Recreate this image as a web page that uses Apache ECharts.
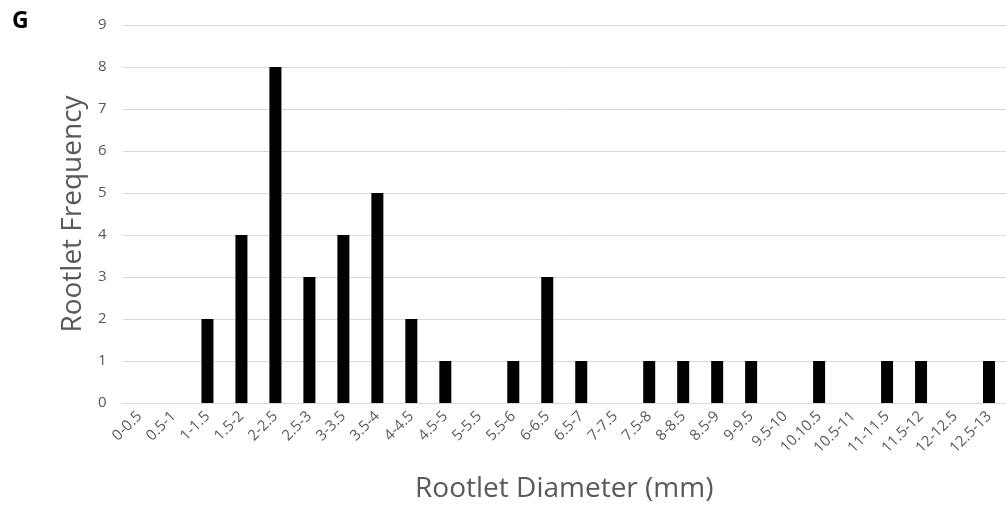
<!DOCTYPE html>
<html><head><meta charset="utf-8">
<script src="https://cdn.jsdelivr.net/npm/echarts@6/dist/echarts.min.js"></script>
<style>html,body{margin:0;padding:0;background:#fff}#c{width:1006px;height:508px}</style>
</head><body><div id="c"></div>
<script>
var categories = ['0-0.5','0.5-1','1-1.5','1.5-2','2-2.5','2.5-3','3-3.5','3.5-4','4-4.5','4.5-5','5-5.5','5.5-6','6-6.5','6.5-7','7-7.5','7.5-8','8-8.5','8.5-9','9-9.5','9.5-10','10.10.5','10.5-11','11-11.5','11.5-12','12-12.5','12.5-13'];
var frequency = [0,0,2,4,8,3,4,5,2,1,0,1,3,1,0,1,1,1,1,0,1,0,1,1,0,1];
var yTicks = [0,1,2,3,4,5,6,7,8,9];
var panelLabel = 'G';
var xTitle = 'Rootlet Diameter (mm)';
var yTitle = 'Rootlet Frequency';

var font = 'Open Sans';
var chart = echarts.init(document.getElementById('c'));
chart.setOption({
  animation: false,
  textStyle: {fontFamily: font},
  title: {text: panelLabel, left: 7, top: 5, textStyle: {fontSize: 23, fontWeight: 'bold', color: '#000', fontFamily: font}},
  grid: {left: 122.5, right: -7, top: 25, bottom: 102},
  xAxis: {
    type: 'category', data: categories,
    axisLine: {lineStyle: {color: '#d9d9d9'}},
    axisTick: {show: false},
    axisLabel: {rotate: 45, interval: 0, color: '#595959', fontSize: 15, margin: 11, fontFamily: font},
    name: xTitle, nameLocation: 'middle', nameGap: 72,
    nameTextStyle: {fontSize: 28, color: '#595959', fontFamily: font}
  },
  yAxis: {
    type: 'value', min: yTicks[0], max: yTicks[yTicks.length-1], interval: 1,
    axisLine: {show: false}, axisTick: {show: false},
    splitLine: {lineStyle: {color: '#d9d9d9'}},
    axisLabel: {color: '#595959', fontSize: 15, margin: 16, fontFamily: font},
    name: yTitle, nameLocation: 'middle', nameGap: 30,
    nameTextStyle: {fontSize: 28, color: '#595959', fontFamily: font}
  },
  series: [{type: 'bar', data: frequency, barWidth: 12, itemStyle: {color: '#000'}}]
});
</script></body></html>
